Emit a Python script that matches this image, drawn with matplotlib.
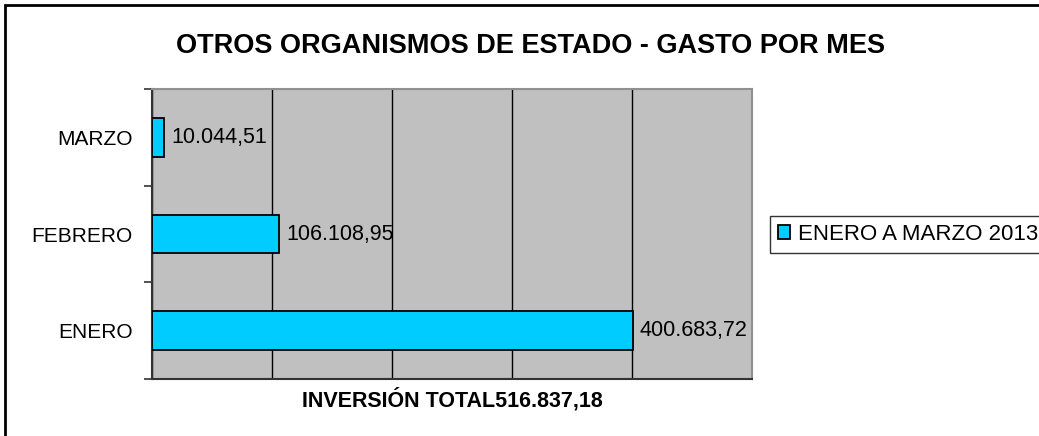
import matplotlib.pyplot as plt
import matplotlib.patches as mpatches

plt.rcParams['font.family'] = ['Liberation Sans', 'DejaVu Sans']

# data, bottom to top as drawn
meses = ["ENERO", "FEBRERO", "MARZO"]
gasto = [400683.72, 106108.95, 10044.51]
etiquetas = ["400.683,72", "106.108,95", "10.044,51"]
serie = "ENERO A MARZO 2013"
total = "516.837,18"

fig = plt.figure(figsize=(10.39, 4.36), dpi=100)
ax = fig.add_axes([152/1039, 1 - 379/436, 600/1039, 290/436])
ax.set_facecolor("#C0C0C0")

y = list(range(len(meses)))
barras = ax.barh(y, gasto, height=0.4, color="#00CCFF", edgecolor="black",
                 linewidth=1.3, label=serie, zorder=3)
for yi, v, txt in zip(y, gasto, etiquetas):
    ax.annotate(txt, (v, yi), xytext=(5, 0), textcoords="offset points",
                va="center", ha="left", fontsize=15.5, zorder=4)

ax.set_xlim(0, 500000)
ax.set_ylim(-0.5, 2.5)
ax.set_xticks([0, 100000, 200000, 300000, 400000, 500000])
ax.set_xticklabels([])
ax.tick_params(axis="x", length=0)
ax.grid(axis="x", color="black", linewidth=1, zorder=1)

# category boundaries as major ticks, labels as minor
ax.set_yticks([-0.5, 0.5, 1.5, 2.5])
ax.set_yticklabels([])
ax.set_yticks(y, minor=True)
ax.set_yticklabels(meses, minor=True, fontsize=15)
ax.tick_params(axis="y", which="major", length=6, width=1.2, color="#333333")
ax.tick_params(axis="y", which="minor", length=0, pad=14)

for s in ["left", "bottom"]:
    ax.spines[s].set_color("#333333")
    ax.spines[s].set_linewidth(1.5)
for s in ["top", "right"]:
    ax.spines[s].set_color("#909090")
    ax.spines[s].set_linewidth(1.5)

ax.set_xlabel("INVERSIÓN TOTAL" + total, fontsize=15.5, fontweight="bold", labelpad=3)

fig.text(531/1039, 1 - 46/436, "OTROS ORGANISMOS DE ESTADO - GASTO POR MES",
         ha="center", va="center", fontsize=19.5, fontweight="bold")

leg = fig.legend(handles=[barras], loc="upper left",
                 bbox_to_anchor=(770/1039, 1 - 216/436), borderaxespad=0,
                 fontsize=16, frameon=True, fancybox=False, edgecolor="black",
                 handlelength=0.55, handleheight=0.55, handletextpad=0.35,
                 borderpad=0.35)
leg.get_frame().set_linewidth(1)

# outer chart border (right and bottom lie outside the picture)
fig.patches.append(mpatches.Rectangle((5/1039, -0.1), 1.2, 1 - 5/436 + 0.1,
                                      transform=fig.transFigure, fill=False,
                                      edgecolor="black", linewidth=2))

plt.savefig("out.png", dpi=100)
